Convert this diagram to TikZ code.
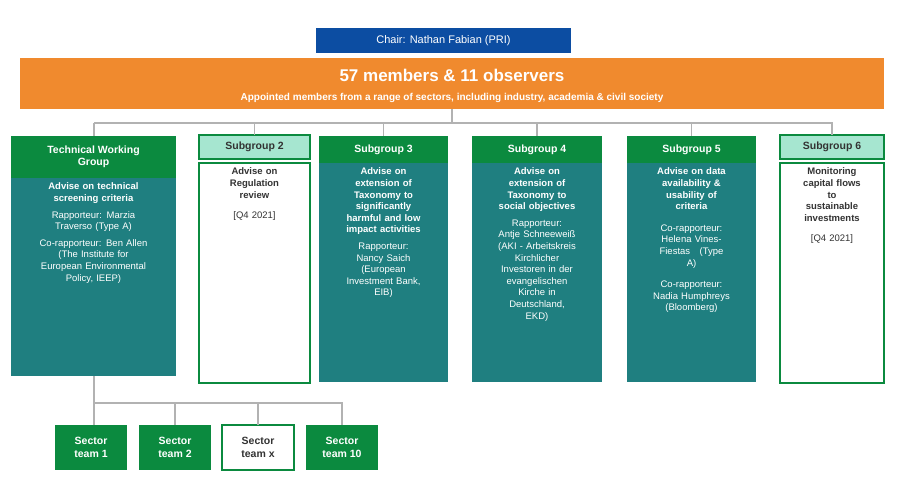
\documentclass[tikz,border=0pt]{standalone}
\usepackage{fontspec}
\setmainfont{Liberation Sans}
\begin{document}
\begin{tikzpicture}[x=1pt,y=-1pt,
  every node/.style={inner sep=0pt,outer sep=0pt},
  con/.style={draw=gray!60,line width=1.2pt},
  head/.style={fill=hgreen,text=white,font=\bfseries\fontsize{10.5}{12}\selectfont,align=center,anchor=north west},
  lhead/.style={fill=lmint,draw=hgreen,line width=1.5pt,font=\bfseries\fontsize{10.5}{12}\selectfont,text=black!80,anchor=north west},
  body/.style={fill=teal2,anchor=north west},
  wbody/.style={fill=white,draw=hgreen,line width=1.5pt,anchor=north west},
  txt/.style={text=white,font=\fontsize{9.5}{11.6}\selectfont,align=center,anchor=north},
  wtxt/.style={text=black!80,font=\fontsize{9.5}{11.6}\selectfont,align=center,anchor=north},
  team/.style={fill=hgreen,text=white,font=\bfseries\fontsize{10.5}{13}\selectfont,align=center,minimum width=72pt,minimum height=45pt,anchor=north west},
  wteam/.style={fill=white,draw=hgreen,line width=1.5pt,text=black!80,font=\bfseries\fontsize{10.5}{13}\selectfont,align=center,minimum width=72pt,minimum height=45pt,anchor=north west}]
\definecolor{hgreen}{HTML}{0B8A3F}
\definecolor{teal2}{HTML}{1F7F80}
\definecolor{lmint}{HTML}{A6E6D0}
\definecolor{orng}{HTML}{F08A2E}
\definecolor{cblue}{HTML}{0C4DA2}
\useasboundingbox (0,0) rectangle (900,500);
\fill[white] (0,0) rectangle (900,500);

\node[fill=cblue,text=white,minimum width=255pt,minimum height=25pt,anchor=north west,font=\fontsize{11}{13}\selectfont] (chair) at (316,28) {Chair: Nathan Fabian (PRI)};
\node[fill=orng,minimum width=864pt,minimum height=51pt,anchor=north west] (bar) at (20,58) {};
\node[text=white,font=\bfseries\fontsize{17}{20}\selectfont,anchor=center] (t1) at (452,75) {57 members \& 11 observers};
\node[text=white,font=\bfseries\fontsize{10}{12}\selectfont,anchor=center] (t2) at (452,98) {Appointed members from a range of sectors, including industry, academia \& civil society};

% boxes
\node[body,minimum width=165pt,minimum height=240pt] (b1) at (11,136) {};
\node[head,minimum width=165pt,minimum height=42pt] (h1) at (11,136) {Technical Working\\Group};
\node[txt,text width=160pt] at (93.5,183) {\textbf{Advise on technical}\\\textbf{screening criteria}\\[5pt]Rapporteur: Marzia\\Traverso (Type A)\\[5pt]Co-rapporteur: Ben Allen\\(The Institute for\\European Environmental\\Policy, IEEP)};

\node[wbody,minimum width=111pt,minimum height=220pt] (b2) at (199,163) {};
\node[lhead,minimum width=111pt,minimum height=24pt] (h2) at (199,135) {Subgroup 2};
\node[wtxt,text width=108pt] at (254.5,168) {\textbf{Advise on}\\\textbf{Regulation}\\\textbf{review}\\[9pt][Q4 2021]};

\node[body,minimum width=129pt,minimum height=246pt] (b3) at (319,136) {};
\node[head,minimum width=129pt,minimum height=27pt] (h3) at (319,136) {Subgroup 3};
\node[txt,text width=126pt] at (383.5,168) {\textbf{Advise on}\\\textbf{extension of}\\\textbf{Taxonomy to}\\\textbf{significantly}\\\textbf{harmful and low}\\\textbf{impact activities}\\[5pt]Rapporteur:\\Nancy Saich\\(European\\Investment Bank,\\EIB)};

\node[body,minimum width=130pt,minimum height=246pt] (b4) at (472,136) {};
\node[head,minimum width=130pt,minimum height=27pt] (h4) at (472,136) {Subgroup 4};
\node[txt,text width=126pt] at (537,168) {\textbf{Advise on}\\\textbf{extension of}\\\textbf{Taxonomy to}\\\textbf{social objectives}\\[5pt]Rapporteur:\\Antje Schneeweiß\\(AKI - Arbeitskreis\\Kirchlicher\\Investoren in der\\evangelischen\\Kirche in\\Deutschland,\\EKD)};

\node[body,minimum width=129pt,minimum height=246pt] (b5) at (627,136) {};
\node[head,minimum width=129pt,minimum height=27pt] (h5) at (627,136) {Subgroup 5};
\node[txt,text width=126pt] at (691.5,168) {\textbf{Advise on data}\\\textbf{availability \&}\\\textbf{usability of}\\\textbf{criteria}\\[10pt]Co-rapporteur:\\Helena Vines-\\Fiestas\quad(Type\\A)\\[10pt]Co-rapporteur:\\Nadia Humphreys\\(Bloomberg)};

\node[wbody,minimum width=104pt,minimum height=220pt] (b6) at (780,163) {};
\node[lhead,minimum width=104pt,minimum height=24pt] (h6) at (780,135) {Subgroup 6};
\node[wtxt,text width=100pt] at (832,168) {\textbf{Monitoring}\\\textbf{capital flows}\\\textbf{to}\\\textbf{sustainable}\\\textbf{investments}\\[9pt][Q4 2021]};

% teams
\node[team] (s1) at (55,425) {Sector\\team 1};
\node[team] (s2) at (139,425) {Sector\\team 2};
\node[wteam] (s3) at (222,425) {Sector\\team x};
\node[team] (s4) at (306,425) {Sector\\team 10};

% connectors
\coordinate (hl) at (94,123);
\coordinate (hr) at (833,123);
\draw[con] (bar.south) -- (bar.south |- hl);
\draw[con] (hl) -- (hr);
\draw[con] (hl) -- (h1.north -| hl);
\draw[con] (h2.north |- hl) -- (h2.north);
\draw[con] (h3.north |- hl) -- (h3.north);
\draw[con] (h4.north |- hl) -- (h4.north);
\draw[con] (h5.north |- hl) -- (h5.north);
\draw[con] (h6.north |- hl) -- (h6.north);
\coordinate (tl) at (94,403);
\coordinate (tr) at (343,403);
\draw[con] (b1.south -| tl) -- (tl) -- (tr);
\draw[con] (tl) -- (s1.north -| tl);
\draw[con] (s2.north |- tl) -- (s2.north);
\draw[con] (s3.north |- tl) -- (s3.north);
\draw[con] (s4.north |- tl) -- (s4.north);
\end{tikzpicture}
\end{document}
